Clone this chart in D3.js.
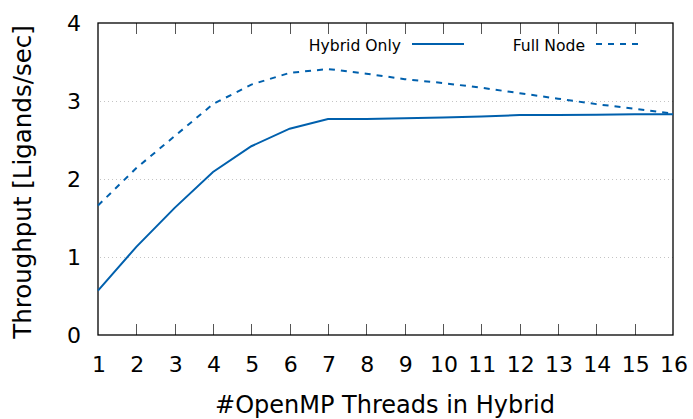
<!DOCTYPE html>
<html><head><meta charset="utf-8">
<script src="https://cdn.jsdelivr.net/npm/d3@7"></script>
<style>body{margin:0;background:#fff}svg{display:block;font-family:"DejaVu Sans",sans-serif}</style>
</head><body><svg id="c" width="693" height="419"></svg>
<script>
const threads = [1,2,3,4,5,6,7,8,9,10,11,12,13,14,15,16];
const hybridOnly = [0.57,1.13,1.63,2.09,2.42,2.645,2.77,2.77,2.78,2.79,2.80,2.82,2.82,2.825,2.83,2.83];
const fullNode = [1.66,2.14,2.55,2.96,3.21,3.36,3.41,3.35,3.28,3.23,3.17,3.10,3.03,2.96,2.90,2.84];
const yTicks = [0,1,2,3,4];
const seriesNames = ["Hybrid Only","Full Node"];

const svg = d3.select("#c");
const L=98, R=673, T=23, B=335;
const x = d3.scaleLinear().domain([1,16]).range([L,R]);
const y = d3.scaleLinear().domain([0,4]).range([B,T]);
const blue = "#0060ad";

// grid
svg.append("g").selectAll("line").data(yTicks.filter(d=>d>0&&d<4)).join("line")
  .attr("x1",L+2).attr("x2",R).attr("y1",d=>y(d)+0.5).attr("y2",d=>y(d)+0.5)
  .attr("stroke","#c4c4c4").attr("stroke-width",1).attr("stroke-dasharray","1,3");

// ticks top & bottom (inward)
const inner = threads.filter(d=>d>1&&d<16);
svg.append("g").selectAll("line").data(inner).join("line")
  .attr("x1",d=>Math.round(x(d))+0.5).attr("x2",d=>Math.round(x(d))+0.5)
  .attr("y1",B).attr("y2",B-11).attr("stroke","#555").attr("stroke-width",1);
svg.append("g").selectAll("line").data(inner).join("line")
  .attr("x1",d=>Math.round(x(d))+0.5).attr("x2",d=>Math.round(x(d))+0.5)
  .attr("y1",T).attr("y2",T+11).attr("stroke","#555").attr("stroke-width",1);

// frame
svg.append("rect").attr("x",L).attr("y",T).attr("width",R-L).attr("height",B-T)
  .attr("fill","none").attr("stroke","#000").attr("stroke-width",1.3);

// lines
const line = d3.line().x((d,i)=>x(threads[i])).y(d=>y(d));
svg.append("path").datum(hybridOnly).attr("d",line).attr("fill","none")
  .attr("stroke",blue).attr("stroke-width",2);
svg.append("path").datum(fullNode).attr("d",line).attr("fill","none")
  .attr("stroke",blue).attr("stroke-width",2).attr("stroke-dasharray","6,6");

// tick labels
svg.append("g").selectAll("text").data(threads).join("text")
  .attr("x",d=>x(d)+1).attr("y",372).attr("text-anchor","middle")
  .attr("font-size",22).attr("fill","#000").text(d=>d);
svg.append("g").selectAll("text").data(yTicks).join("text")
  .attr("x",81).attr("y",d=>y(d)).attr("dy","0.36em").attr("text-anchor","end")
  .attr("font-size",22).attr("fill","#000").text(d=>d);

// axis titles
svg.append("text").attr("x",385).attr("y",413).attr("text-anchor","middle")
  .attr("font-size",24).text("#OpenMP Threads in Hybrid");
svg.append("text").attr("transform","translate(31,182) rotate(-90)").attr("text-anchor","middle")
  .attr("font-size",24.5).text("Throughput [Ligands/sec]");

// legend
const legY = 44;
svg.append("text").attr("x",401).attr("y",51).attr("text-anchor","end")
  .attr("font-size",15.6).text(seriesNames[0]);
svg.append("line").attr("x1",412).attr("x2",464).attr("y1",legY).attr("y2",legY)
  .attr("stroke",blue).attr("stroke-width",2);
svg.append("text").attr("x",585).attr("y",51).attr("text-anchor","end")
  .attr("font-size",15.6).text(seriesNames[1]);
svg.append("line").attr("x1",596).attr("x2",642).attr("y1",legY).attr("y2",legY)
  .attr("stroke",blue).attr("stroke-width",2).attr("stroke-dasharray","6,6");
</script></body></html>
